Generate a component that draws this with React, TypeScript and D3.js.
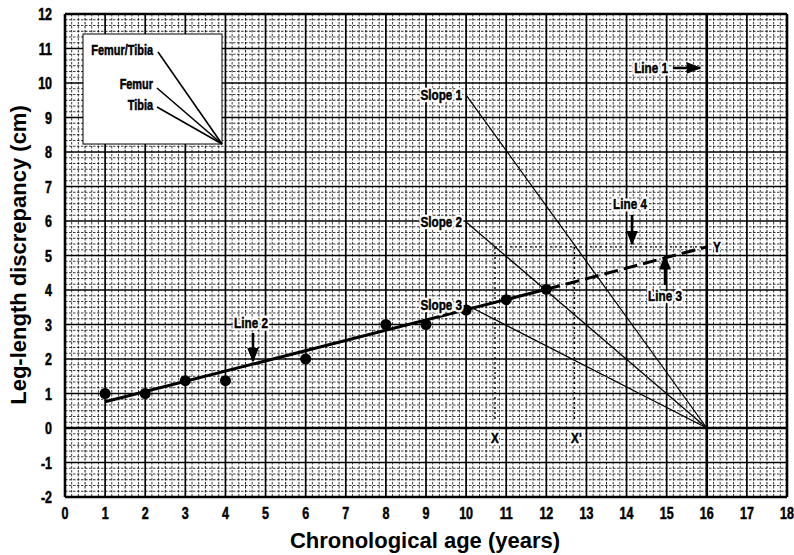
import * as d3 from "d3";

const ages = [1, 2, 3, 4, 6, 8, 9, 10, 11, 12];
const discrepancy = [1.0, 1.0, 1.37, 1.37, 2.0, 3.0, 3.0, 3.42, 3.72, 4.02];
const xTicks = d3.range(0, 19);
const yTicks = d3.range(-2, 13);
// line 2 (fitted), solid then dashed projection
const line2Solid = [[1, 0.76], [12, 4.02]];
const line2Dashed = [[12, 4.02], [16, 5.25]];
// slopes all end at maturity (16, 0)
const slopeStarts = [
  { name: "Slope 1", x: 10, y: 9.65 },
  { name: "Slope 2", x: 10, y: 5.97 },
  { name: "Slope 3", x: 10, y: 3.57 },
];
const maturity = [16, 0];
const line4Y = 5.25;
const xMarks = [{ name: "X", x: 10.72 }, { name: "X'", x: 12.7 }];

const W = 794;
const H = 555;
const font = "'Liberation Sans', Arial, sans-serif";
const SQ = 0.78; // horizontal squeeze for the condensed lettering

// condensed bold text helper
const T = ({ x, y, anchor = "middle", size = 13, halo = false, children }: any) => (
  <g transform={`translate(${x},${y}) scale(${SQ},1)`}>
    {halo && (
      <text textAnchor={anchor} fontFamily={font} fontWeight={700} fontSize={size}
        fill="#fff" stroke="#fff" strokeWidth={5} strokeLinejoin="round">
        {children}
      </text>
    )}
    <text textAnchor={anchor} fontFamily={font} fontWeight={700} fontSize={size} fill="#000"
      stroke="#000" strokeWidth={0.5}>
      {children}
    </text>
  </g>
);

const App = () => {
  const x = d3.scaleLinear().domain([0, 18]).range([65, 787]);
  const y = d3.scaleLinear().domain([-2, 12]).range([497, 14]);
  const line = d3.line<number[]>().x((d) => x(d[0])).y((d) => y(d[1]));

  // graph paper: six divisions per unit
  const fineX = d3.range(0, 18 * 6).map((i) => i / 6);
  const fineY = d3.range(-2 * 6, 12 * 6).map((i) => i / 6);

  return (
    <svg width={W} height={H} style={{ position: "absolute", left: 0, top: 0, background: "#fff" }}>
      <defs>
        <marker id="ah" viewBox="0 0 10 10" refX="9" refY="5" markerWidth="6" markerHeight="6" orient="auto">
          <path d="M0,1 L10,5 L0,9 Z" fill="#000" />
        </marker>
      </defs>
      <g>
        {fineX.map((v, i) => {
          if (i % 6 === 0) return null;
          return (
            <line key={"vx" + i} x1={x(v)} x2={x(v)} y1={y(12)} y2={y(-2)}
              stroke="#000" strokeWidth={i % 3 === 0 ? 1.1 : 0.9} strokeDasharray="2.5,1.5" opacity={0.85} />
          );
        })}
        {fineY.map((v, i) => {
          if (i % 6 === 0) return null;
          return (
            <line key={"hy" + i} x1={x(0)} x2={x(18)} y1={y(v)} y2={y(v)}
              stroke="#000" strokeWidth={i % 3 === 0 ? 1.1 : 0.9} strokeDasharray="2.5,1.5" opacity={0.85} />
          );
        })}
        {xTicks.map((v) => (
          <line key={"VX" + v} x1={x(v)} x2={x(v)} y1={y(12)} y2={y(-2)} stroke="#000"
            strokeWidth={v === 0 || v === 16 || v === 18 ? 2.6 : 1.7} />
        ))}
        {yTicks.map((v) => (
          <line key={"HY" + v} x1={x(0)} x2={x(18)} y1={y(v)} y2={y(v)} stroke="#000"
            strokeWidth={v === 0 || v === 12 || v === -2 ? 2.6 : 1.7} />
        ))}
      </g>

      {/* legend box */}
      <rect x={83} y={34} width={139} height={110} fill="#fff" stroke="#000" strokeWidth={1} />
      {[
        { t: "Femur/Tibia", ty: 55, lx: 158, ly: 52 },
        { t: "Femur", ty: 89, lx: 157, ly: 88 },
        { t: "Tibia", ty: 110, lx: 157, ly: 107 },
      ].map((d) => (
        <g key={d.t}>
          <T x={153} y={d.ty} anchor="end" size={14}>{d.t}</T>
          <line x1={d.lx} y1={d.ly} x2={222} y2={144} stroke="#000" strokeWidth={1.6} />
        </g>
      ))}

      {/* projections */}
      <line x1={x(xMarks[0].x)} x2={x(16)} y1={y(line4Y)} y2={y(line4Y)} stroke="#000" strokeWidth={1.4} strokeDasharray="2,3" />
      {xMarks.map((m) => (
        <line key={m.name} x1={x(m.x)} x2={x(m.x)} y1={y(line4Y)} y2={y(0.2)} stroke="#000" strokeWidth={1.4} strokeDasharray="2,3" />
      ))}

      {slopeStarts.map((s) => (
        <line key={s.name} x1={x(s.x)} y1={y(s.y)} x2={x(maturity[0])} y2={y(maturity[1])} stroke="#000" strokeWidth={1.2} />
      ))}

      <path d={line(line2Solid) ?? ""} fill="none" stroke="#000" strokeWidth={3} />
      <path d={line(line2Dashed) ?? ""} fill="none" stroke="#000" strokeWidth={3} strokeDasharray="14,6" />

      {ages.map((a, i) => (
        <circle key={a} cx={x(a)} cy={y(discrepancy[i])} r={5.5} fill="#000" />
      ))}

      {/* annotations */}
      {slopeStarts.map((s) => (
        <T key={"t" + s.name} x={x(s.x) - 4} y={y(s.y) + 5} anchor="end" size={15} halo>{s.name}</T>
      ))}
      <T x={668} y={73} anchor="end" size={15} halo>Line 1</T>
      <line x1={673} y1={68} x2={700} y2={68} stroke="#000" strokeWidth={2.5} markerEnd="url(#ah)" />
      <T x={630} y={209} size={15} halo>Line 4</T>
      <line x1={632} y1={215} x2={632} y2={244} stroke="#000" strokeWidth={2.5} markerEnd="url(#ah)" />
      <T x={665} y={301} size={15} halo>Line 3</T>
      <line x1={665} y1={285} x2={665} y2={256} stroke="#000" strokeWidth={2.5} markerEnd="url(#ah)" />
      <T x={251} y={328} size={15} halo>Line 2</T>
      <line x1={253} y1={333} x2={253} y2={361} stroke="#000" strokeWidth={2.5} markerEnd="url(#ah)" />
      {xMarks.map((m) => (
        <T key={"l" + m.name} x={x(m.x) + (m.name === "X" ? 0 : 2)} y={443} size={15} halo>{m.name}</T>
      ))}
      <T x={x(16) + 10} y={252} size={15} halo>Y</T>

      {/* axes labels */}
      {xTicks.map((v) => (
        <T key={"xt" + v} x={x(v)} y={519} size={16}>{v}</T>
      ))}
      {yTicks.map((v) => (
        <T key={"yt" + v} x={52} y={y(v) + 6} anchor="end" size={16}>{v}</T>
      ))}
      <text x={425} y={548} textAnchor="middle" fontFamily={font} fontWeight={700} fontSize={22}>
        Chronological age (years)
      </text>
      <text transform="translate(26,255) rotate(-90)" textAnchor="middle" fontFamily={font} fontWeight={700} fontSize={22}>
        Leg-length discrepancy (cm)
      </text>
    </svg>
  );
};

export default App;
